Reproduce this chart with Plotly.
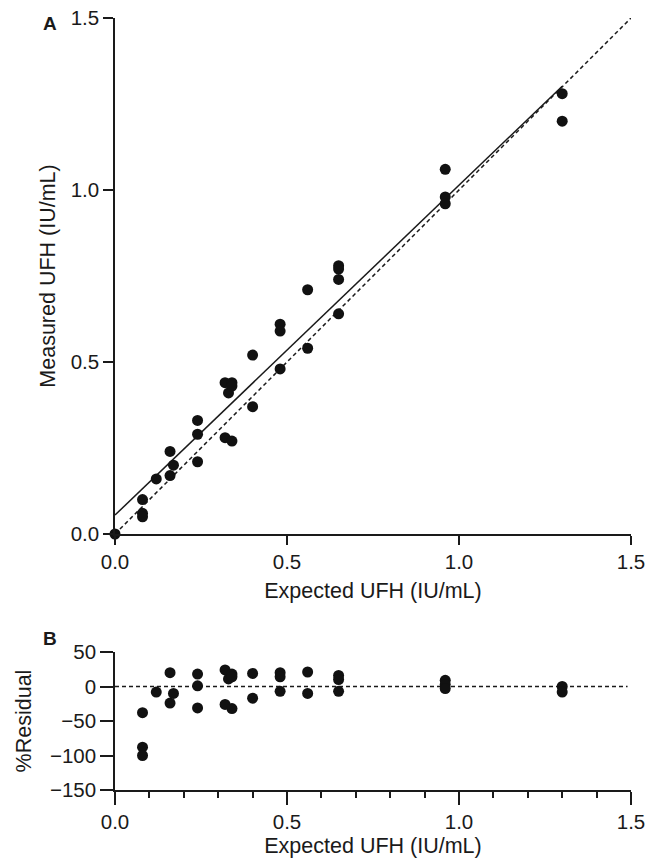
import plotly.graph_objects as go

# Panel A: expected vs measured UFH (IU/mL)
expected = [0.00, 0.08, 0.08, 0.08, 0.12, 0.16, 0.16, 0.17, 0.24, 0.24, 0.24,
            0.32, 0.32, 0.33, 0.34, 0.34, 0.34, 0.40, 0.40, 0.48, 0.48, 0.48,
            0.56, 0.56, 0.65, 0.65, 0.65, 0.65, 0.96, 0.96, 0.96, 1.30, 1.30]
measured = [0.00, 0.10, 0.06, 0.05, 0.16, 0.24, 0.17, 0.20, 0.33, 0.29, 0.21,
            0.44, 0.28, 0.41, 0.44, 0.43, 0.27, 0.52, 0.37, 0.61, 0.59, 0.48,
            0.71, 0.54, 0.78, 0.77, 0.74, 0.64, 1.06, 0.98, 0.96, 1.28, 1.20]

# Linear regression fit (measured = intercept + slope * expected)
fit_intercept = 0.055
fit_slope = 0.959
fit_x = [0.0, 1.30]
identity_x = [0.0, 1.5]

# Panel B: % residuals
res_x = [0.08, 0.08, 0.08, 0.12, 0.16, 0.16, 0.17, 0.24, 0.24, 0.24,
         0.32, 0.32, 0.33, 0.34, 0.34, 0.34, 0.40, 0.40, 0.48, 0.48, 0.48,
         0.56, 0.56, 0.65, 0.65, 0.65, 0.96, 0.96, 0.96, 1.30, 1.30]
res_y = [-38, -88, -100, -8, 20, -24, -10, 18, 1, -31,
         24, -26, 11, 18, 14, -32, 19, -17, 20, 14, -7,
         21, -10, 16, 10, -7, 9, 3, -3, 0, -8]

x_ticks = [0.0, 0.5, 1.0, 1.5]
y_ticks_a = [0.0, 0.5, 1.0, 1.5]
y_ticks_b = [-150, -100, -50, 0, 50]

W, H = 646, 860
FONT = "Liberation Sans, Arial, Helvetica, sans-serif"
INK = "#1a1a1a"
DOT = "#111111"


def px_x(p):
    return p / W


def px_y(p):
    return 1 - p / H


fig = go.Figure()

# identity line
fig.add_trace(go.Scatter(x=identity_x, y=identity_x, mode="lines",
                         line=dict(color=INK, width=1.5, dash="4px,3px"),
                         xaxis="x", yaxis="y", hoverinfo="skip"))
# regression line
fig.add_trace(go.Scatter(x=fit_x, y=[fit_intercept + fit_slope * v for v in fit_x],
                         mode="lines", line=dict(color=INK, width=1.5),
                         xaxis="x", yaxis="y", hoverinfo="skip"))
fig.add_trace(go.Scatter(x=expected, y=measured, mode="markers",
                         marker=dict(color=DOT, size=11, line=dict(width=0)),
                         cliponaxis=False, xaxis="x", yaxis="y"))

# zero reference in residual plot
fig.add_trace(go.Scatter(x=[0.0, 1.49], y=[0, 0], mode="lines",
                         line=dict(color=INK, width=1.5, dash="4px,3px"),
                         xaxis="x2", yaxis="y2", hoverinfo="skip"))
fig.add_trace(go.Scatter(x=res_x, y=res_y, mode="markers",
                         marker=dict(color=DOT, size=11, line=dict(width=0)),
                         cliponaxis=False, xaxis="x2", yaxis="y2"))

tick_font = dict(family=FONT, size=20.5, color=INK)
title_font = dict(family=FONT, size=21.5, color=INK)

common = dict(showline=True, linecolor=INK, linewidth=1.5, ticks="outside",
              tickcolor=INK, tickwidth=1.5, showgrid=False, zeroline=False,
              tickfont=tick_font, automargin=False, fixedrange=True)

fig.update_layout(
    width=W, height=H,
    margin=dict(l=0, r=0, t=0, b=0),
    paper_bgcolor="white", plot_bgcolor="white",
    showlegend=False,
    xaxis=dict(domain=[px_x(115), px_x(631)], range=[0, 1.5], anchor="y",
               tickvals=x_ticks, tickformat=".1f", ticklen=9,
               title=dict(text="Expected UFH (IU/mL)", font=title_font, standoff=11),
               **common),
    yaxis=dict(domain=[px_y(534), px_y(18)], range=[0, 1.5], anchor="x",
               tickvals=y_ticks_a, tickformat=".1f", ticklen=10,
               title=dict(text="Measured UFH (IU/mL)", font=title_font, standoff=9),
               **common),
    xaxis2=dict(domain=[px_x(115), px_x(631)], range=[0, 1.5], anchor="y2",
                tickvals=x_ticks, tickformat=".1f", ticklen=13,
                minor=dict(dtick=0.1, ticklen=6, ticks="outside",
                           tickcolor=INK, tickwidth=1.5),
                title=dict(text="Expected UFH (IU/mL)", font=title_font, standoff=6),
                **common),
    yaxis2=dict(domain=[px_y(790), px_y(652)], range=[-150, 50], anchor="x2",
                tickvals=y_ticks_b, ticklen=13,
                title=dict(text="%Residual", font=title_font, standoff=12),
                **common),
)

fig.add_annotation(text="<b>A</b>", x=px_x(50), y=px_y(23), xref="paper", yref="paper",
                   xanchor="center", yanchor="middle", showarrow=False,
                   font=dict(family=FONT, size=19, color=INK))
fig.add_annotation(text="<b>B</b>", x=px_x(50), y=px_y(638), xref="paper", yref="paper",
                   xanchor="center", yanchor="middle", showarrow=False,
                   font=dict(family=FONT, size=19, color=INK))

fig.write_html("out.html")
